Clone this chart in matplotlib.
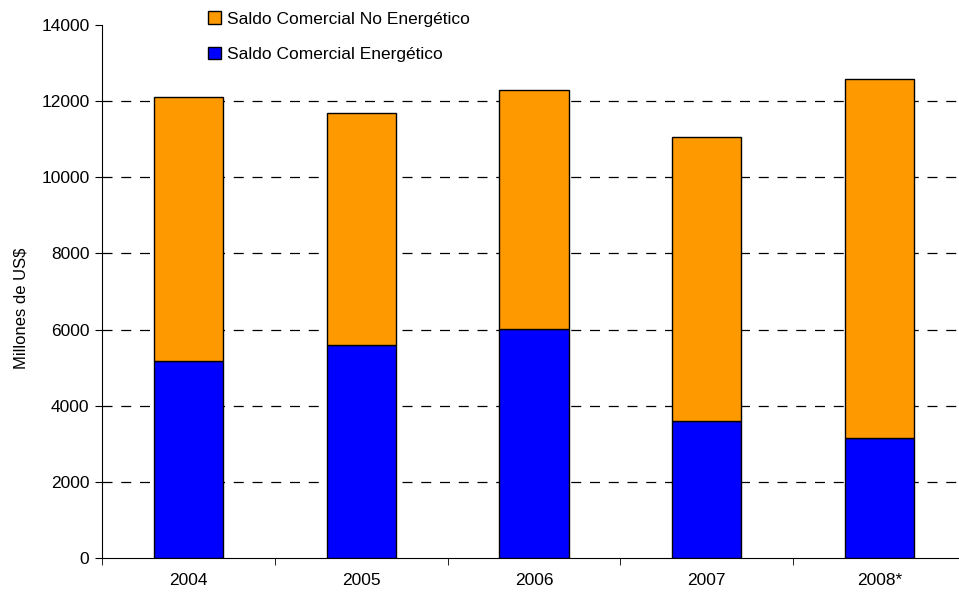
import numpy as np
import matplotlib.pyplot as plt

# Datos (millones de US$)
years = ['2004', '2005', '2006', '2007', '2008*']
energetico = [5180, 5600, 6020, 3600, 3150]
no_energetico = [6930, 6090, 6270, 7460, 9430]

plt.rcParams['font.family'] = ['Liberation Sans', 'DejaVu Sans']

fig = plt.figure(figsize=(9.59, 5.97), dpi=100)
ax = fig.add_axes([102/959, 39/597, 864/959, 533/597])

x = np.arange(len(years))
width = 0.4

b1 = ax.bar(x, energetico, width, color='#0000ff', edgecolor='black',
            linewidth=1, label='Saldo Comercial Energético', zorder=3)
b2 = ax.bar(x, no_energetico, width, bottom=energetico, color='#ff9900',
            edgecolor='black', linewidth=1,
            label='Saldo Comercial No Energético', zorder=3)

ax.set_xlim(-0.5, len(years) - 0.5)
ax.set_ylim(0, 14000)
ax.set_yticks(np.arange(0, 14001, 2000))
for yv in range(2000, 14000, 2000):
    ax.axhline(yv, color='black', linewidth=0.9, dashes=(8, 7), zorder=1)

ax.set_xticks(x)
ax.set_xticklabels(years, fontsize=12.5)
ax.set_xticks(np.arange(-0.5, len(years), 1), minor=True)
ax.tick_params(axis='x', which='major', length=0, pad=11)
ax.tick_params(axis='x', which='minor', length=5, direction='out')
ax.tick_params(axis='y', labelsize=12.5, length=5, direction='out', pad=4)

ax.spines['top'].set_visible(False)
ax.spines['right'].set_visible(False)
ax.set_ylabel('Millones de US$', fontsize=12)
ax.yaxis.set_label_coords(-0.085, 0.469)

ax.legend([b2, b1], ['Saldo Comercial No Energético', 'Saldo Comercial Energético'],
          loc='upper left', bbox_to_anchor=(197/959, 1.0), bbox_transform=fig.transFigure,
          frameon=False, fontsize=12.5, handlelength=0.75, handleheight=0.75,
          handletextpad=0.3, labelspacing=1.15, borderaxespad=0.25)

fig.savefig('out.png', dpi=100)
